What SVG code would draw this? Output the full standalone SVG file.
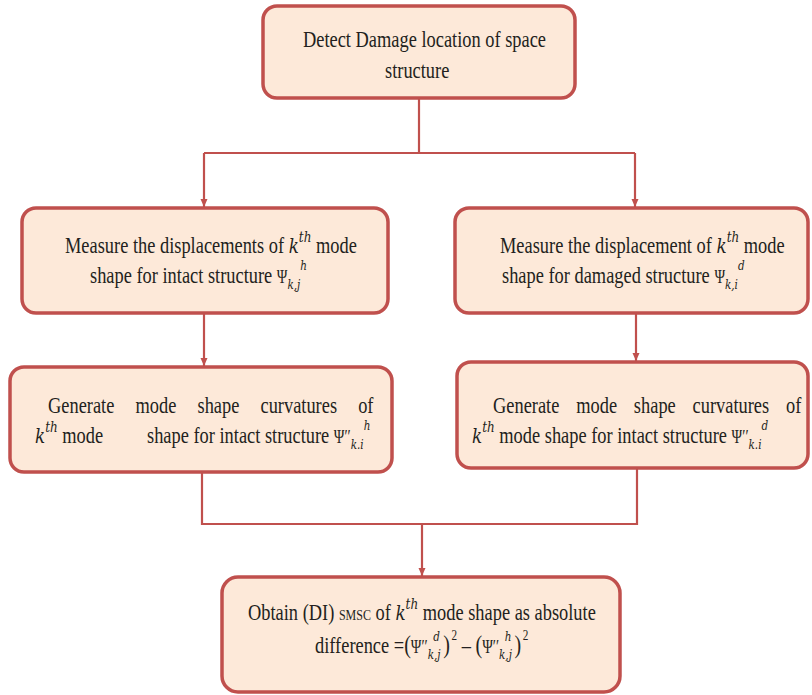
<svg xmlns="http://www.w3.org/2000/svg" width="812" height="695" viewBox="0 0 812 695">
<defs>
<style>
.box{fill:#FDE9D9;stroke:#C0504D;stroke-width:3.5}
.con{fill:none;stroke:#C0504D;stroke-width:2.2}
.t{font-family:"Liberation Serif","Times New Roman",serif;font-size:23px;fill:#231F20}
.mi{font-family:"DejaVu Serif","Liberation Serif",serif;font-style:italic;font-size:21px}
.sp{font-family:"DejaVu Serif","Liberation Serif",serif;font-style:italic;font-size:15px}
.sb{font-family:"DejaVu Serif","Liberation Serif",serif;font-style:italic;font-size:13px}
.ps{font-family:"Liberation Serif",serif;font-size:18px}
.br{font-family:"Liberation Serif",serif;font-size:25px}
.n{font-family:"Liberation Serif",serif;font-size:14px}
.sc{font-size:15px}
</style>
<marker id="ah" viewBox="0 0 8 14" refX="8" refY="7" markerWidth="8" markerHeight="14" markerUnits="userSpaceOnUse" orient="auto">
<path d="M0,3.5 L8,7 L0,10.5 z" fill="#C0504D"/>
</marker>
</defs>

<g id="connectors">
<path class="con" d="M419,98 V153"/>
<path class="con" d="M204,153 H635"/>
<path class="con" d="M204,153 V207" marker-end="url(#ah)"/>
<path class="con" d="M635,153 V207" marker-end="url(#ah)"/>
<path class="con" d="M204,313 V366" marker-end="url(#ah)"/>
<path class="con" d="M636,313 V361" marker-end="url(#ah)"/>
<path class="con" d="M202,472 V524 H637 V469"/>
<path class="con" d="M422,524 V576" marker-end="url(#ah)"/>
</g>

<g id="start">
<rect class="box" x="263" y="6" width="312" height="92" rx="14"/>
<text class="t" transform="translate(303,47) scale(0.8,1)">Detect Damage location of space</text>
<text class="t" transform="translate(385,78) scale(0.8,1)">structure</text>
</g>

<g id="intact-displacement">
<rect class="box" x="22" y="208" width="366" height="105" rx="14"/>
<text class="t" transform="translate(65,253) scale(0.8,1)">Measure the displacements of <tspan class="mi">k</tspan><tspan class="sp" dy="-11">th</tspan><tspan dy="11"> mode</tspan></text>
<text class="t" transform="translate(90,283) scale(0.8,1)">shape for intact structure <tspan class="ps">Ψ</tspan><tspan class="sb" dy="6">k,j</tspan><tspan class="sb" dy="-19">h</tspan></text>
</g>

<g id="damaged-displacement">
<rect class="box" x="455" y="208" width="353" height="105" rx="14"/>
<text class="t" transform="translate(500,253) scale(0.8,1)">Measure the displacement of <tspan class="mi">k</tspan><tspan class="sp" dy="-11">th</tspan><tspan dy="11"> mode</tspan></text>
<text class="t" transform="translate(502,283) scale(0.8,1)">shape for damaged structure <tspan class="ps">Ψ</tspan><tspan class="sb" dy="6">k,i</tspan><tspan class="sb" dy="-19">d</tspan></text>
</g>

<g id="intact-curvature">
<rect class="box" x="10" y="367" width="382" height="105" rx="14"/>
<text class="t" transform="translate(48,413) scale(0.8,1)">Generate<tspan x="109.4">mode</tspan><tspan x="186.9">shape</tspan><tspan x="265.6">curvatures</tspan><tspan x="387.7">of</tspan></text>
<text class="t" transform="translate(35,443) scale(0.8,1)"><tspan class="mi">k</tspan><tspan class="sp" dy="-11">th</tspan><tspan dy="11"> mode</tspan><tspan x="140">shape for intact structure </tspan><tspan class="ps">Ψ′′</tspan><tspan class="sb" dy="6">k.i</tspan><tspan class="sb" dy="-19">h</tspan></text>
</g>

<g id="damaged-curvature">
<rect class="box" x="457" y="362" width="351" height="106" rx="14"/>
<text class="t" transform="translate(493,413) scale(0.8,1)">Generate<tspan x="104">mode</tspan><tspan x="176.1">shape</tspan><tspan x="249.5">curvatures</tspan><tspan x="366.3">of</tspan></text>
<text class="t" transform="translate(472,443) scale(0.8,1)"><tspan class="mi">k</tspan><tspan class="sp" dy="-11">th</tspan><tspan dy="11"> mode shape for intact structure </tspan><tspan class="ps">Ψ′′</tspan><tspan class="sb" dy="6">k.i</tspan><tspan class="sb" dy="-19">d</tspan></text>
</g>

<g id="result">
<rect class="box" x="222" y="577" width="398" height="115" rx="16"/>
<text class="t" transform="translate(248,620) scale(0.8,1)">Obtain (DI) <tspan class="sc">SMSC</tspan> of <tspan class="mi">k</tspan><tspan class="sp" dy="-11">th</tspan><tspan dy="11"> mode shape as absolute</tspan></text>
<text class="t" transform="translate(315,653) scale(0.8,1)">difference =<tspan class="br">(</tspan><tspan class="ps">Ψ′′</tspan><tspan class="sb" dy="6">k,j</tspan><tspan class="sb" dx="-9" dy="-18">d</tspan><tspan class="br" dx="4" dy="12">)</tspan><tspan class="n" dx="2" dy="-13">2</tspan><tspan dy="13"> – </tspan><tspan class="br">(</tspan><tspan class="ps">Ψ′′</tspan><tspan class="sb" dy="6">k,j</tspan><tspan class="sb" dx="-9" dy="-18">h</tspan><tspan class="br" dx="4" dy="12">)</tspan><tspan class="n" dx="2" dy="-13">2</tspan></text>
</g>
</svg>
